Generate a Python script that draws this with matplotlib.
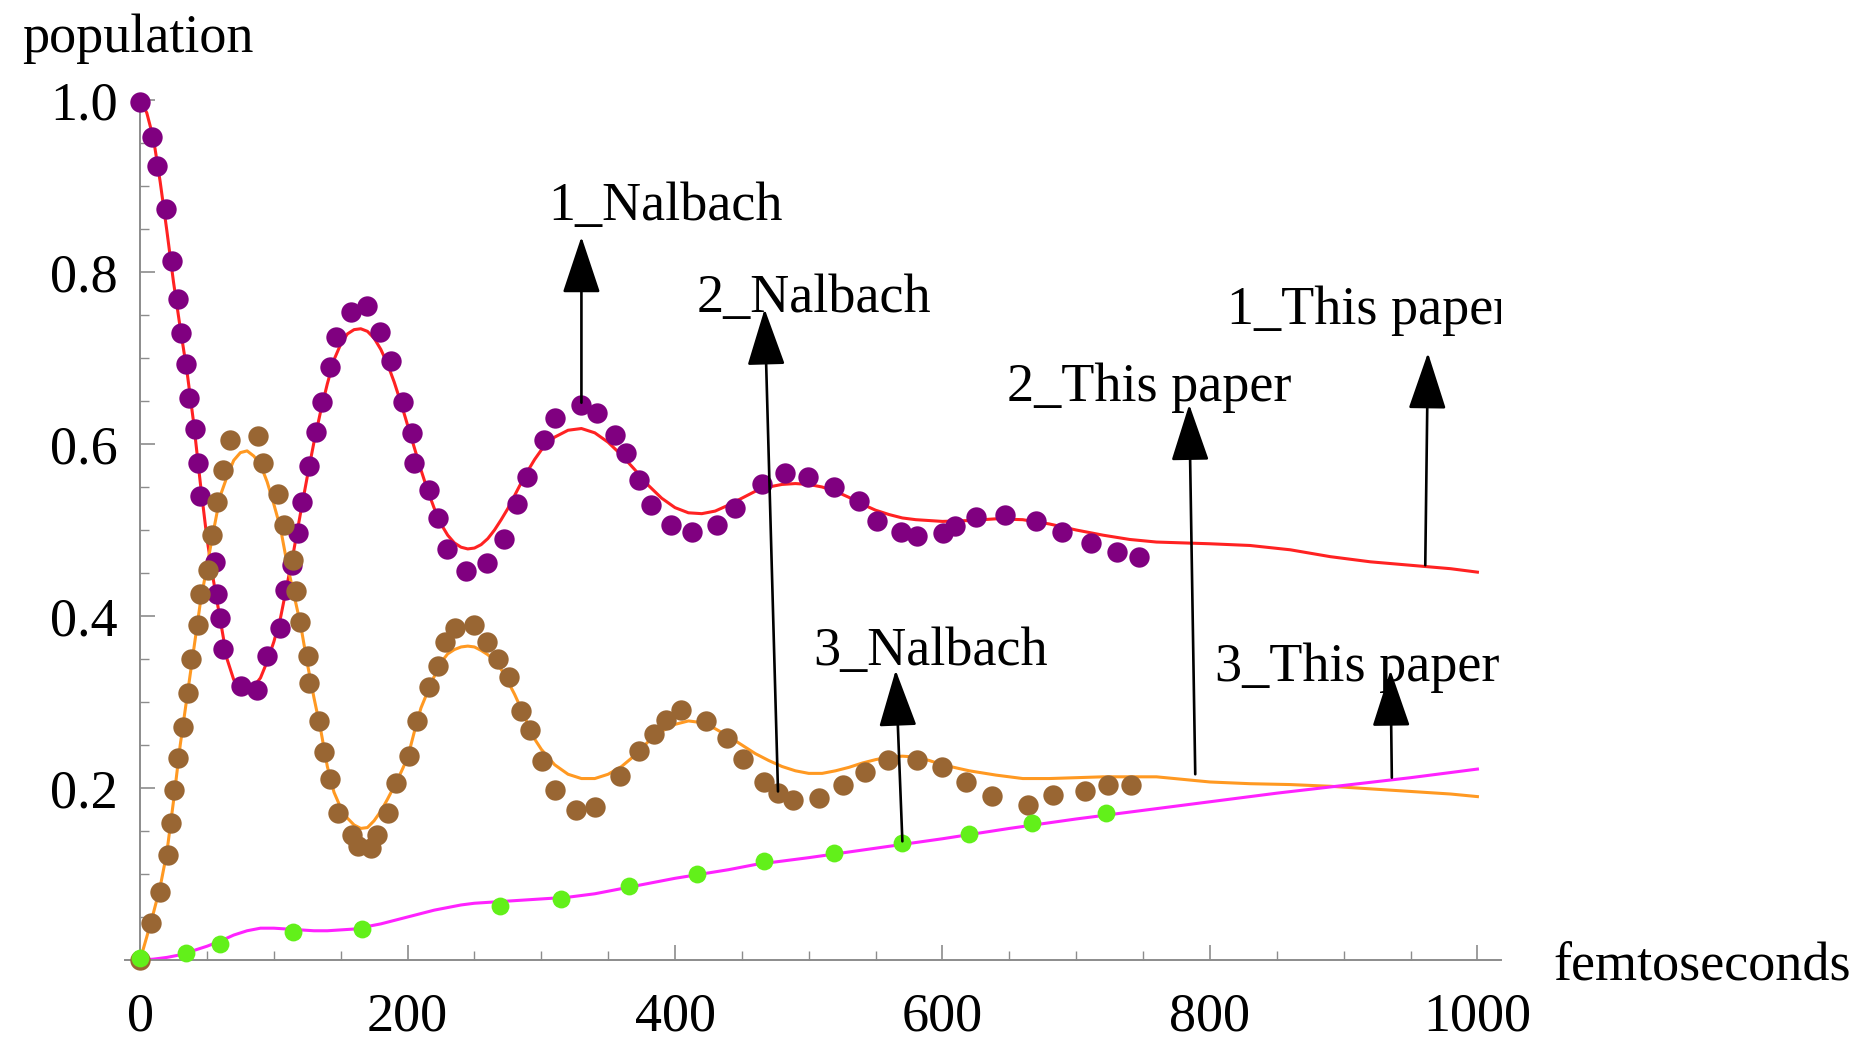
import matplotlib
matplotlib.use("Agg")
import matplotlib.pyplot as plt
from matplotlib.ticker import MultipleLocator

purple_t = [0, 8.7, 13, 19.2, 23.7, 28.2, 30.4, 34.4, 36.6, 41.1, 43.1, 44.9, 56.1, 57.3, 59.8,
            62.3, 75.3, 87.7, 94.8, 104.7, 108.5, 113.4, 118.4, 120.9, 126.6, 131.6, 135.9,
            142.1, 146.6, 157.6, 169.6, 179.5, 187.5, 196.5, 203.2, 204.5, 215.7, 223.1,
            229.4, 243.8, 259.3, 271.8, 282.2, 289.2, 301.7, 310.4, 329.6, 341.6, 354.8,
            363.1, 373.4, 381.7, 397.3, 412.8, 431.7, 444.7, 464.9, 482.0, 499.1, 518.6,
            537.9, 551.2, 568.9, 580.7, 600.6, 609.3, 624.8, 646.5, 669.8, 689.3, 710.7,
            730.3, 747.3]
purple_y = [0.998, 0.957, 0.923, 0.873, 0.813, 0.769, 0.729, 0.693, 0.654, 0.618, 0.578, 0.539,
            0.463, 0.426, 0.398, 0.362, 0.319, 0.314, 0.353, 0.386, 0.430, 0.459, 0.497, 0.533,
            0.574, 0.614, 0.649, 0.689, 0.725, 0.753, 0.760, 0.730, 0.697, 0.649, 0.613, 0.578,
            0.546, 0.514, 0.478, 0.452, 0.462, 0.490, 0.530, 0.562, 0.605, 0.630, 0.645, 0.636,
            0.610, 0.590, 0.558, 0.529, 0.506, 0.498, 0.506, 0.526, 0.554, 0.566, 0.562, 0.550,
            0.534, 0.510, 0.498, 0.493, 0.496, 0.505, 0.515, 0.517, 0.510, 0.498, 0.485, 0.474,
            0.469]

brown_t = [0, 8.0, 15.0, 21.2, 23.2, 25.4, 28.2, 31.9, 36.1, 37.9, 43.1, 44.9, 51.1, 54.1, 57.8,
           62.3, 67.3, 88.5, 92.2, 103.4, 107.7, 114.2, 116.7, 119.7, 125.2, 126.6, 133.4,
           137.6, 142.1, 148.3, 158.3, 163.3, 172.5, 177.0, 185.7, 191.5, 200.7, 206.9, 215.7,
           222.4, 228.1, 235.6, 249.8, 259.3, 267.3, 276.2, 284.7, 291.7, 300.4, 310.4, 326.1,
           340.3, 358.8, 373.4, 384.2, 393.0, 404.4, 423.0, 438.5, 451.0, 466.5, 477.3, 488.2,
           507.8, 525.4, 541.9, 559.6, 580.7, 599.9, 617.7, 637.2, 663.6, 682.8, 706.4, 724.1,
           741.2]
brown_y = [0.0, 0.043, 0.079, 0.122, 0.159, 0.198, 0.235, 0.271, 0.310, 0.350, 0.390, 0.426,
           0.454, 0.494, 0.533, 0.570, 0.605, 0.609, 0.578, 0.542, 0.506, 0.465, 0.429, 0.393,
           0.353, 0.322, 0.278, 0.242, 0.210, 0.171, 0.145, 0.133, 0.130, 0.145, 0.171, 0.206,
           0.237, 0.278, 0.318, 0.342, 0.370, 0.386, 0.390, 0.370, 0.350, 0.329, 0.290, 0.267,
           0.231, 0.198, 0.174, 0.178, 0.214, 0.243, 0.263, 0.279, 0.291, 0.278, 0.258, 0.234,
           0.207, 0.194, 0.186, 0.188, 0.203, 0.219, 0.233, 0.233, 0.224, 0.207, 0.191, 0.180,
           0.192, 0.196, 0.203, 0.203]

green_t = [0, 34.4, 59.8, 114.2, 165.8, 269.3, 314.9, 365.6, 416.8, 466.5, 518.6, 569.9,
           620.1, 667.3, 722.0]
green_y = [0.002, 0.008, 0.019, 0.032, 0.036, 0.063, 0.071, 0.086, 0.100, 0.115, 0.124, 0.136,
           0.147, 0.159, 0.171]

# curves
red_t = list(range(0, 301, 5)) + list(range(310, 601, 10)) + list(range(620, 801, 20)) + \
        [830, 860, 890, 920, 950, 980, 1000]
red_y = [1.000, 0.985, 0.955, 0.905, 0.848, 0.788, 0.735, 0.685, 0.625, 0.555, 0.490, 0.440,
         0.395, 0.350, 0.326, 0.318, 0.315, 0.318, 0.328, 0.347, 0.370, 0.398, 0.437, 0.477,
         0.520, 0.562, 0.602, 0.638, 0.670, 0.698, 0.716, 0.728, 0.733, 0.734, 0.731, 0.723,
         0.710, 0.693, 0.672, 0.648, 0.622, 0.596, 0.570, 0.546, 0.525, 0.507, 0.494, 0.485,
         0.480, 0.478, 0.479, 0.483, 0.490, 0.500, 0.512, 0.525, 0.540, 0.555, 0.569, 0.582,
         0.593,
         0.608, 0.616, 0.618, 0.613, 0.602, 0.587, 0.570, 0.552, 0.537, 0.526, 0.520, 0.519,
         0.522, 0.529, 0.537, 0.545, 0.550, 0.553, 0.554, 0.553, 0.550, 0.545, 0.538, 0.530,
         0.523, 0.518, 0.514, 0.512, 0.511, 0.510,
         0.511, 0.513, 0.512, 0.507, 0.500, 0.494, 0.489, 0.486, 0.485, 0.484,
         0.482, 0.477, 0.469, 0.463, 0.459, 0.455, 0.451]

orange_t = red_t
orange_y = [0.000, 0.027, 0.055, 0.085, 0.125, 0.185, 0.250, 0.305, 0.360, 0.415, 0.458, 0.500,
            0.540, 0.562, 0.581, 0.590, 0.592, 0.586, 0.576, 0.556, 0.530, 0.502, 0.460, 0.425,
            0.390, 0.345, 0.305, 0.268, 0.225, 0.195, 0.177, 0.165, 0.157, 0.153, 0.154, 0.162,
            0.173, 0.187, 0.202, 0.218, 0.235, 0.265, 0.293, 0.312, 0.330, 0.346, 0.356, 0.361,
            0.364, 0.365, 0.364, 0.360, 0.355, 0.348, 0.338, 0.324, 0.309, 0.292, 0.274, 0.257,
            0.245,
            0.227, 0.216, 0.211, 0.211, 0.216, 0.225, 0.238, 0.254, 0.266, 0.274, 0.278, 0.276,
            0.269, 0.260, 0.250, 0.240, 0.232, 0.225, 0.220, 0.217, 0.217, 0.220, 0.224, 0.229,
            0.233, 0.236, 0.237, 0.236, 0.232, 0.227,
            0.220, 0.215, 0.211, 0.211, 0.212, 0.213, 0.213, 0.213, 0.210, 0.207,
            0.205, 0.204, 0.202, 0.199, 0.196, 0.193, 0.190]

magenta_t = [0, 10, 20, 30, 40, 50, 60, 70, 80, 90, 100, 110, 120, 130, 140, 150, 160, 170, 180,
             190, 200, 210, 220, 230, 240, 250, 260, 270, 280, 290, 300, 320, 340, 360, 380,
             400, 420, 440, 460, 480, 500, 550, 600, 650, 700, 750, 800, 850, 900, 950, 1000]
magenta_y = [0.000, 0.001, 0.003, 0.006, 0.011, 0.016, 0.022, 0.029, 0.034, 0.037, 0.037, 0.036,
             0.035, 0.034, 0.034, 0.035, 0.036, 0.039, 0.042, 0.046, 0.050, 0.054, 0.058, 0.061,
             0.064, 0.066, 0.067, 0.068, 0.069, 0.070, 0.071, 0.073, 0.077, 0.083, 0.089, 0.095,
             0.100, 0.105, 0.111, 0.115, 0.119, 0.130, 0.141, 0.153, 0.164, 0.174, 0.184, 0.194,
             0.203, 0.212, 0.222]

# annotations: label, text anchor (left, baseline), arrow tail, arrow head
labels = ["1_Nalbach", "2_Nalbach", "3_Nalbach", "1_This paper", "2_This paper", "3_This paper"]
label_xy = [(305, 0.860), (416, 0.754), (503, 0.343), (813, 0.739), (648, 0.650), (804, 0.324)]
arrow_tail = [(330, 0.648), (477, 0.196), (570, 0.138), (961, 0.459), (789, 0.216), (936, 0.212)]
arrow_head = [(330, 0.841), (467, 0.757), (565, 0.337), (963, 0.706), (784.5, 0.646), (935, 0.337)]

FONT = "Liberation Serif"
FS = 39
AXCOL = "#8c8c8c"

fig = plt.figure(figsize=(18.73, 10.41), dpi=100)
ax = fig.add_axes([0.06695, 0.07781, 0.7347, 0.8286])

ax.plot(red_t, red_y, color="#ff2222", lw=2.2, zorder=2)
ax.plot(orange_t, orange_y, color="#ff9922", lw=2.2, zorder=2)
ax.plot(magenta_t, magenta_y, color="#ff22ff", lw=2.2, zorder=2)

ax.scatter(purple_t, purple_y, s=215, color="#800080", lw=0, zorder=3, clip_on=False)
ax.scatter(brown_t, brown_y, s=215, color="#996633", lw=0, zorder=4, clip_on=False)
ax.scatter(green_t, green_y, s=165, color="#62f01a", lw=0, zorder=5, clip_on=False)

for lab, (tx, ty), tail, head in zip(labels, label_xy, arrow_tail, arrow_head):
    ax.text(tx, ty, lab, fontsize=FS, family=FONT, ha="left", va="baseline",
            zorder=6, clip_on=True)
    ax.annotate("", xy=head, xytext=tail, zorder=7,
                arrowprops=dict(arrowstyle="-|>,head_length=3.6,head_width=1.2",
                                mutation_scale=10, lw=1.9, color="black",
                                shrinkA=0, shrinkB=0))

ax.set_xlim(-11, 1018)
ax.set_ylim(0, 1.003)

for side in ["top", "right"]:
    ax.spines[side].set_visible(False)
for side in ["left", "bottom"]:
    ax.spines[side].set_position(("data", 0))
    ax.spines[side].set_color(AXCOL)
    ax.spines[side].set_linewidth(1.4)

ax.set_xticks([0, 200, 400, 600, 800, 1000])
ax.set_yticks([0.2, 0.4, 0.6, 0.8, 1.0])
ax.set_yticklabels(["0.2", "0.4", "0.6", "0.8", "1.0"])
ax.xaxis.set_minor_locator(MultipleLocator(50))
ax.yaxis.set_minor_locator(MultipleLocator(0.05))
ax.tick_params(which="major", direction="in", length=11, width=1.2, color=AXCOL)
ax.tick_params(which="minor", direction="in", length=6.5, width=1.0, color=AXCOL)
ax.tick_params(axis="x", which="major", pad=23)
ax.tick_params(axis="y", which="major", pad=16)
for lbl in ax.get_xticklabels() + ax.get_yticklabels():
    lbl.set_fontfamily(FONT)
    lbl.set_fontsize(FS)
    lbl.set_color("black")

fig.text(0.01175, 0.950, "population", fontsize=FS, family=FONT, ha="left", va="baseline")
fig.text(0.8293, 0.0586, "femtoseconds", fontsize=FS, family=FONT, ha="left", va="baseline")

fig.savefig("out.png", dpi=100)
